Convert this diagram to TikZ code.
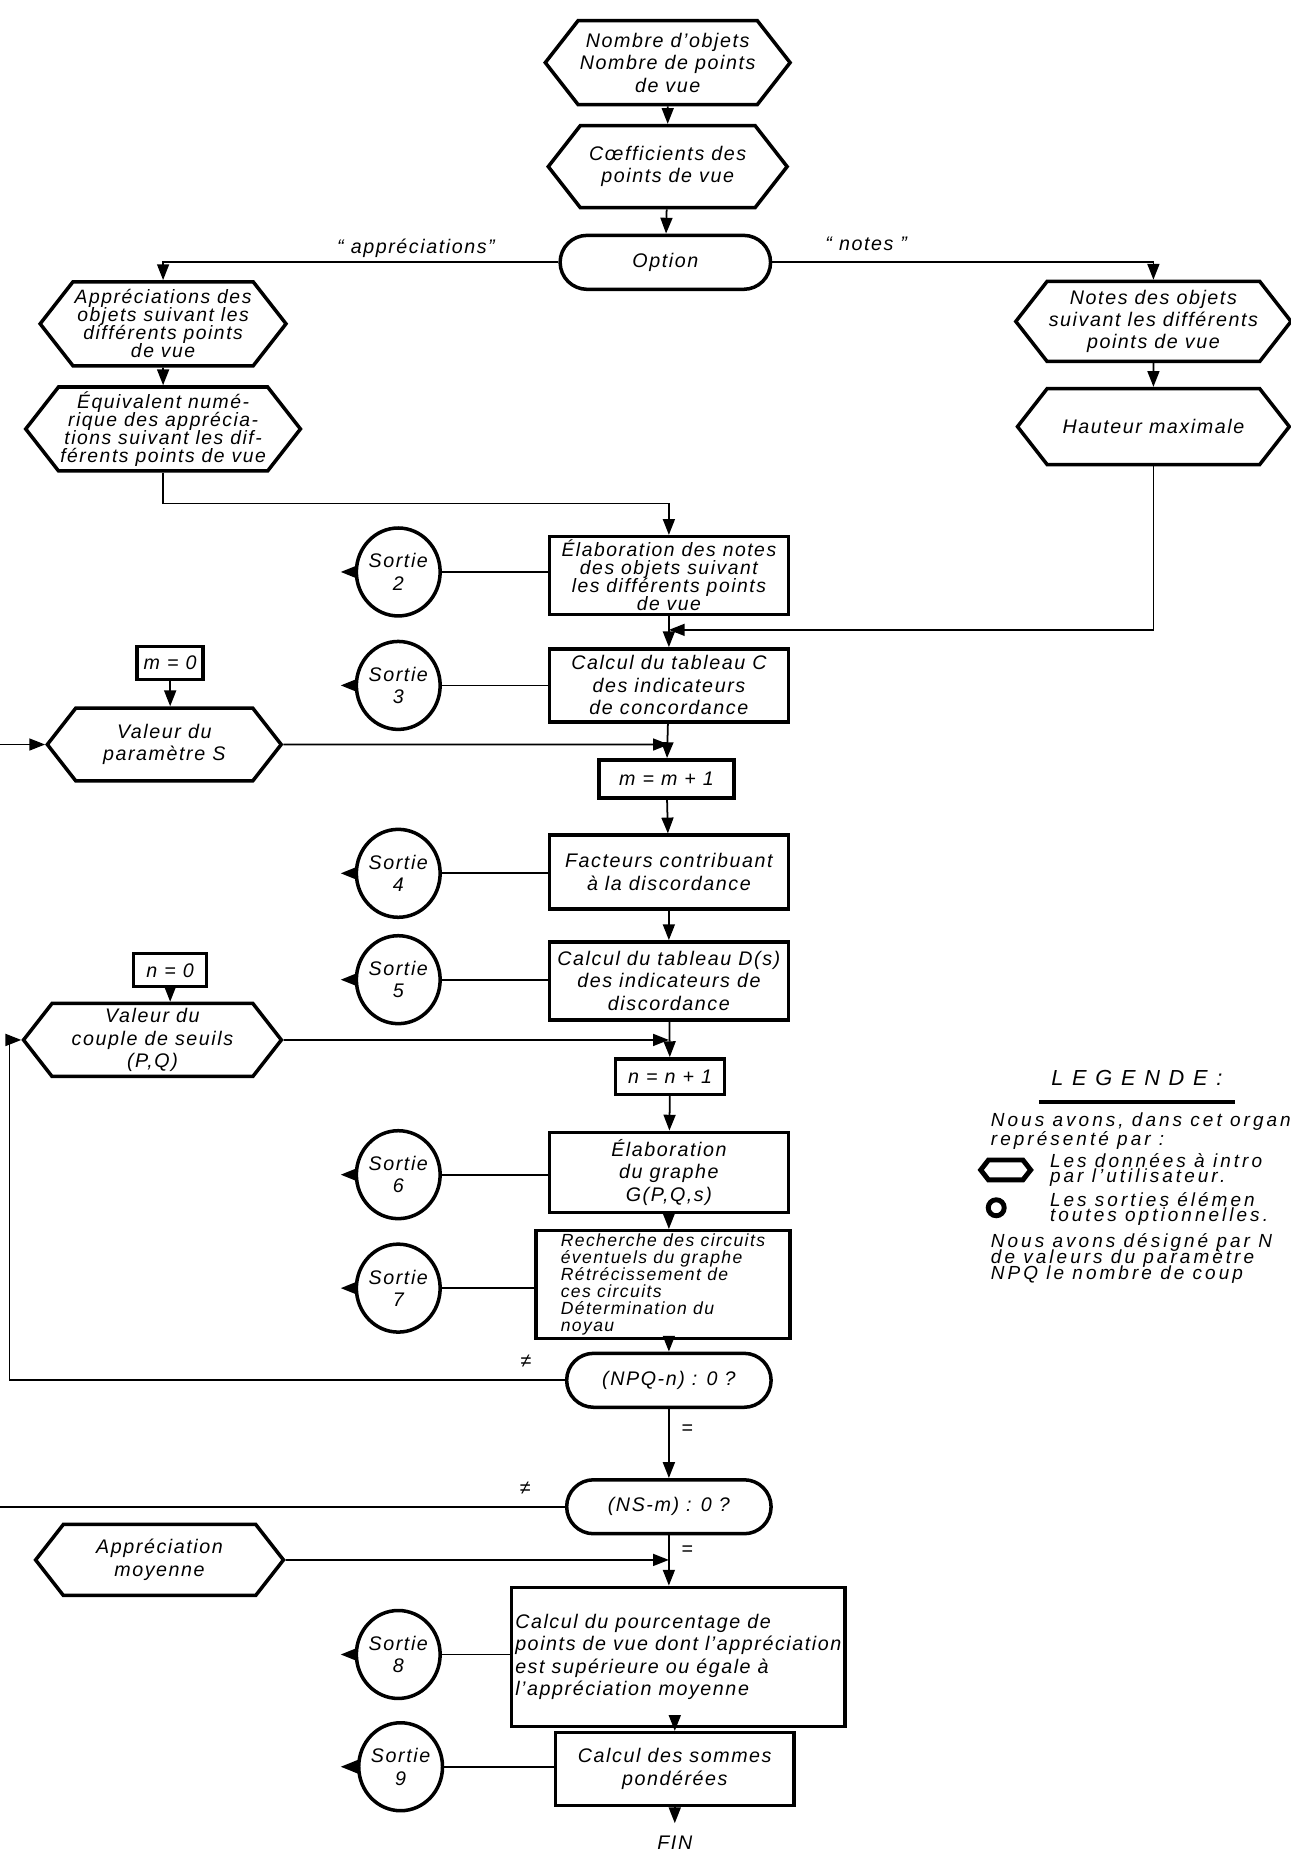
\documentclass[tikz,border=0pt]{standalone}
\usepackage{fontspec}
\setmainfont{Liberation Sans}[LetterSpace=8]
\usetikzlibrary{shapes.symbols, shapes.misc, shapes.geometric, arrows.meta}

% let the lines of a box come close
\newcommand{\tightlines}{\lineskiplimit=-20pt\relax}

\tikzset{
  % text of the boxes
  txt/.style={font=\itshape\fontsize{5.6}{6.4}\selectfont\tightlines},
  dense/.style={font=\itshape\fontsize{5.5}{5.1}\selectfont\tightlines},
  densest/.style={font=\itshape\fontsize{5.0}{4.8}\selectfont\tightlines},
  legend/.style={font=\itshape\fontsize{5.4}{5.4}\selectfont\addfontfeature{LetterSpace=16}\tightlines},
  legendtight/.style={font=\itshape\fontsize{5.4}{4.5}\selectfont\addfontfeature{LetterSpace=16}\tightlines},
  % shapes of the flowchart
  data/.style={draw, line width=1pt, signal, signal to=west and east,
    signal pointer angle=104, align=center, inner sep=0.5pt},
  stepbox/.style={draw, line width=1pt, rectangle, align=center, inner sep=1pt},
  testbox/.style={draw, line width=1pt, rounded rectangle, minimum width=2.28cm, minimum height=0.54cm},
  sortie/.style={draw, line width=1pt, ellipse, minimum width=0.74cm, minimum height=0.88cm,
    inner sep=0pt, align=center},
  % connectors
  link/.style={line width=0.5pt},
  flow/.style={line width=0.5pt, -{Triangle[length=4.5pt, width=3.4pt]}},
  sortiearrow/.style={line width=1pt, -{Triangle[length=5pt, width=3.6pt]}},
}

\begin{document}
\begin{tikzpicture}[x=0.011822cm, y=-0.011822cm, every node/.style={txt}]
        % Sheet
        \useasboundingbox (0,0) rectangle (1092,1568);

        % Data at the top
        \node[data, minimum width=2.39cm, minimum height=0.84cm] (objets) at (565,53) {Nombre d'objets\\Nombre de points\\de vue};
        \node[data, minimum width=2.39cm, minimum height=0.82cm] (coeffs) at (565,141) {Cœfficients des\\points de vue};
        \node[testbox, minimum width=2.34cm] (option) at (563,222) {Option};
        \node (labA) at (352,210) {“ appréciations”};
        \node (labN) at (733,206) {“ notes ”};

        % Branch of the appreciations
        \node[data, dense, minimum width=2.42cm, minimum height=0.84cm] (apprec) at (138,274) {Appréciations des\\objets suivant les\\différents points\\de vue};
        \node[data, dense, minimum width=2.44cm, minimum height=0.84cm] (equiv) at (138,363) {Équivalent numé-\\rique des apprécia-\\tions suivant les dif-\\férents points de vue};

        % Branch of the notes
        \node[data, minimum width=2.72cm, minimum height=0.80cm] (notes) at (976,272) {Notes des objets\\suivant les différents\\points de vue};
        \node[data, minimum width=2.72cm, minimum height=0.76cm] (hauteur) at (976,361) {Hauteur maximale};

        % Main column
        \node[stepbox, dense, minimum width=2.39cm, minimum height=0.77cm] (elab) at (566,487) {Élaboration des notes\\des objets suivant\\les différents points\\de vue};
        \node[stepbox, minimum width=2.39cm, minimum height=0.73cm] (concord) at (566,580) {Calcul du tableau C\\des indicateurs\\de concordance};
        \node[stepbox, minimum width=1.35cm, minimum height=0.38cm] (mplus) at (564,659) {m = m + 1};
        \node[stepbox, minimum width=2.39cm, minimum height=0.74cm] (facteurs) at (566,738) {Facteurs contribuant\\à la discordance};
        \node[stepbox, minimum width=2.39cm, minimum height=0.78cm] (discord) at (566,830) {Calcul du tableau D(s)\\des indicateurs de\\discordance};
        \node[stepbox, minimum width=1.09cm, minimum height=0.355cm] (nplus) at (567,911) {n = n + 1};
        \node[stepbox, minimum width=2.39cm, minimum height=0.80cm] (graphe) at (566,992) {Élaboration\\du graphe\\G(P,Q,s)};
        \node[stepbox, densest, align=left, minimum width=2.54cm, minimum height=0.98cm] (noyau) at (561,1087) {Recherche des circuits\\éventuels du graphe\\Rétrécissement de\\ces circuits\\Détermination du\\noyau};
        \node[testbox] (testPQ) at (566,1168) {(NPQ-n) : 0 ?};
        \node[testbox] (testS) at (566,1275) {(NS-m) : 0 ?};
        \node[stepbox, align=left, minimum width=3.27cm, minimum height=1.39cm] (pourc) at (574,1402) {Calcul du pourcentage de\\points de vue dont l'appréciation\\est supérieure ou égale à\\l'appréciation moyenne};
        \node[stepbox, minimum width=2.39cm, minimum height=0.73cm] (sommes) at (571,1497) {Calcul des sommes\\pondérées};
        \node (fin) at (571,1559) {FIN};

        % Data on the left
        \node[stepbox, minimum width=0.66cm, minimum height=0.33cm] (mzero) at (144,561) {m = 0};
        \node[data, minimum width=2.34cm, minimum height=0.73cm] (valS) at (139,630) {Valeur du\\paramètre S};
        \node[stepbox, minimum width=0.73cm, minimum height=0.33cm] (nzero) at (144,821) {n = 0};
        \node[data, minimum width=2.58cm, minimum height=0.73cm] (valPQ) at (129,880) {Valeur du\\couple de seuils\\(P,Q)};
        \node[data, minimum width=2.48cm, minimum height=0.71cm] (moyenne) at (135,1320) {Appréciation\\moyenne};

        % Optional outputs
        \node[sortie] (s2) at (337,484) {Sortie\\2};
        \node[sortie] (s3) at (337,580) {Sortie\\3};
        \node[sortie] (s4) at (337,739) {Sortie\\4};
        \node[sortie] (s5) at (337,829) {Sortie\\5};
        \node[sortie] (s6) at (337,994) {Sortie\\6};
        \node[sortie] (s7) at (337,1090) {Sortie\\7};
        \node[sortie] (s8) at (337,1400) {Sortie\\8};
        \node[sortie] (s9) at (339,1495) {Sortie\\9};
        \coordinate (exitx) at (288,0);

        % Junctions
        \coordinate (jC) at (566,533);
        \coordinate (jS) at (566,630);
        \coordinate (jPQ) at (566,880);
        \coordinate (jM) at (566,1320);
        \coordinate (loopPQ) at (8,1168);
        \coordinate (loopSout) at (0,1275);
        \coordinate (loopSin) at (0,630);

        % Main flow
        \draw[flow] (objets) -- (coeffs);
        \draw[flow] (coeffs) -- (option);
        \draw[flow] (option.west) -| (apprec.north);
        \draw[flow] (option.east) -| (notes.north);
        \draw[flow] (apprec) -- (equiv);
        \draw[flow] (notes) -- (hauteur);
        \draw[flow] (equiv.south) -- ++(0,26) -| (elab.north);
        \draw[flow] (hauteur.south) |- (jC);
        \draw[flow] (elab) -- (concord);
        \draw[flow] (mzero.south) -- (mzero.south |- valS.north);
        \draw[flow] (valS) -- (jS);
        \draw[flow] (concord) -- (mplus);
        \draw[flow] (mplus) -- (facteurs);
        \draw[flow] (facteurs) -- (discord);
        \draw[flow] (nzero.south) -- (nzero.south |- valPQ.north);
        \draw[flow] (valPQ) -- (jPQ);
        \draw[flow] (discord) -- (nplus);
        \draw[flow] (nplus) -- (graphe);
        \draw[flow] (graphe.south) -- (graphe.south |- noyau.north);
        \draw[flow] (testPQ |- noyau.south) -- (testPQ.north);
        \draw[flow] (testPQ) -- node[right, pos=0.3] {=} (testS);
        \draw[flow] (testPQ.west) -- node[above, pos=0.07] {≠} (loopPQ) |- (valPQ.west);
        \draw[link] (testS.west) -- node[above, pos=0.07] {≠} (loopSout);
        \draw[flow] (loopSin) -- (valS.west);
        \draw[flow] (moyenne) -- (jM);
        \draw[flow] (testS.south) -- node[right, pos=0.3] {=} (testS.south |- pourc.north);
        \draw[flow] (sommes.north |- pourc.south) -- (sommes.north);
        \draw[flow] (sommes) -- (fin);

        % Lines to the outputs
        \draw[link] (s2.east -| elab.west) -- (s2.east);
        \draw[link] (s3.east -| concord.west) -- (s3.east);
        \draw[link] (s4.east -| facteurs.west) -- (s4.east);
        \draw[link] (s5.east -| discord.west) -- (s5.east);
        \draw[link] (s6.east -| graphe.west) -- (s6.east);
        \draw[link] (s7.east -| noyau.west) -- (s7.east);
        \draw[link] (s8.east -| pourc.west) -- (s8.east);
        \draw[link] (s9.east -| sommes.west) -- (s9.east);
        \draw[sortiearrow] (s2.west) -- (s2.west -| exitx);
        \draw[sortiearrow] (s3.west) -- (s3.west -| exitx);
        \draw[sortiearrow] (s4.west) -- (s4.west -| exitx);
        \draw[sortiearrow] (s5.west) -- (s5.west -| exitx);
        \draw[sortiearrow] (s6.west) -- (s6.west -| exitx);
        \draw[sortiearrow] (s7.west) -- (s7.west -| exitx);
        \draw[sortiearrow] (s8.west) -- (s8.west -| exitx);
        \draw[sortiearrow] (s9.west) -- (s9.west -| exitx);

        % Legend
        \node[font=\itshape\fontsize{6.2}{7}\selectfont\addfontfeature{LetterSpace=40}] (legtitle) at (962,912) {LEGENDE:};
        \draw[line width=1.2pt] ([yshift=-1.2pt]legtitle.south west) -- ([yshift=-1.2pt]legtitle.south east);
        \node[legend, anchor=west, align=left] (legintro) at (828,957) {Nous avons, dans cet organ\\représenté par :};
        \node[data, line width=1.4pt, minimum width=0.5cm, minimum height=0.2cm, inner sep=0pt] (legdata) at (851,990) {};
        \node[legendtight, anchor=west, align=left] (legdatatxt) at (878,990) {Les données à intro\\par l'utilisateur.};
        \node[circle, draw, line width=1.4pt, minimum size=0.16cm, inner sep=0pt] (legsortie) at (843,1022) {};
        \node[legendtight, anchor=west, align=left] (legsortietxt) at (878,1023) {Les sorties élémen\\toutes optionnelles.};
        \node[legendtight, anchor=west, align=left] (legnote) at (828,1065) {Nous avons désigné par N\\de valeurs du paramètre\\NPQ le nombre de coup};
\end{tikzpicture}
\end{document}
